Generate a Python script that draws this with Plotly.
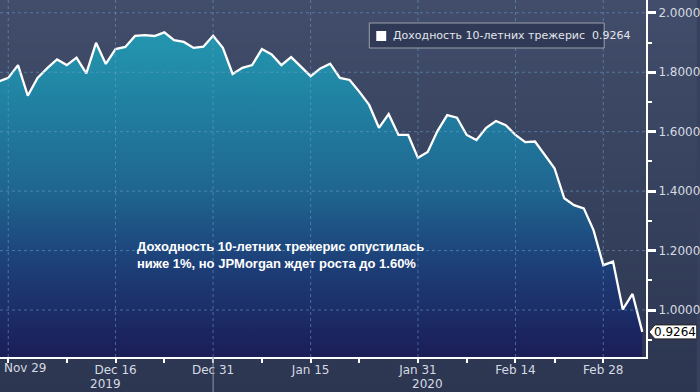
import base64
import struct
import zlib

import pandas as pd
import plotly.graph_objects as go

# ---------------- data ----------------
holidays = ["2019-11-28", "2019-12-25", "2020-01-01", "2020-01-20", "2020-02-17"]
dates = [d for d in pd.bdate_range("2019-11-27", "2020-03-05")
         if d.strftime("%Y-%m-%d") not in holidays]

yields = [1.769, 1.781, 1.824, 1.721, 1.781, 1.814, 1.843, 1.824, 1.849, 1.796,
          1.899, 1.828, 1.878, 1.885, 1.922, 1.925, 1.922, 1.934, 1.908, 1.902,
          1.882, 1.886, 1.923, 1.882, 1.794, 1.815, 1.824, 1.878, 1.860, 1.824,
          1.851, 1.818, 1.787, 1.813, 1.829, 1.781, 1.774, 1.734, 1.690, 1.613,
          1.659, 1.589, 1.589, 1.512, 1.532, 1.602, 1.656, 1.647, 1.589, 1.572,
          1.613, 1.636, 1.622, 1.589, 1.565, 1.567, 1.521, 1.477, 1.376, 1.353,
          1.342, 1.269, 1.151, 1.163, 1.002, 1.054, 0.9264]

major_tick_dates = ["2019-11-29", "2019-12-16", "2019-12-31", "2020-01-15",
                    "2020-01-31", "2020-02-14", "2020-02-28"]
minor_tick_dates = ["2019-12-09", "2019-12-23", "2020-01-08", "2020-01-23",
                    "2020-02-07", "2020-02-21"]
y_major = [1.0, 1.2, 1.4, 1.6, 1.8, 2.0]
y_minor = [0.9, 1.1, 1.3, 1.5, 1.7, 1.9]
year_labels = ["2019", "2020"]
series_name = "Доходность 10-летних трежерис"
headline = "Доходность 10-летних трежерис опустилась<br>ниже 1%, но JPMorgan ждет роста до 1.60%"

# ---------------- helpers ----------------
date_str = [d.strftime("%Y-%m-%d") for d in dates]
x_idx = list(range(len(yields)))
maj_idx = [date_str.index(d) for d in major_tick_dates]
min_idx = [date_str.index(d) for d in minor_tick_dates]
maj_txt = [pd.Timestamp(d).strftime("%b %d") for d in major_tick_dates]

XR = [0.153, 66.38]
YR = [0.842, 2.043]
W, H = 700, 392
ML, MR, MT, MB = 0, 51, 0, 35
PW, PH = W - ML - MR, H - MT - MB


def gradient_png(h, top, bot, w=2):
    raw = b""
    for i in range(h):
        t = i / (h - 1)
        c = bytes(round(top[k] + (bot[k] - top[k]) * t) for k in range(3))
        raw += b"\x00" + c * w

    def chunk(tag, data):
        return (struct.pack(">I", len(data)) + tag + data
                + struct.pack(">I", zlib.crc32(tag + data) & 0xFFFFFFFF))

    png = (b"\x89PNG\r\n\x1a\n"
           + chunk(b"IHDR", struct.pack(">IIBBBBB", w, h, 8, 2, 0, 0, 0))
           + chunk(b"IDAT", zlib.compress(raw))
           + chunk(b"IEND", b""))
    return "data:image/png;base64," + base64.b64encode(png).decode()


bg_src = gradient_png(H, (0x41, 0x4D, 0x6A), (0x2C, 0x36, 0x51))

fig = go.Figure()
fig.add_trace(go.Scatter(
    x=x_idx, y=yields, mode="lines",
    line=dict(color="white", width=2.3),
    fill="tozeroy",
    fillgradient=dict(
        type="vertical", start=YR[0], stop=max(yields),
        colorscale=[[0.0, "#1b1d58"], [0.27, "#1d3d76"], [0.51, "#1f6590"],
                    [0.85, "#2188a6"], [1.0, "#2496af"]]),
    hoverinfo="skip", showlegend=False,
))

shapes = []
grid_col = "rgba(110,160,205,0.55)"
for v in y_major:
    shapes.append(dict(type="line", xref="paper", yref="y", x0=0, x1=1, y0=v, y1=v,
                       line=dict(color=grid_col, width=1, dash="dot"), layer="above"))
for i in maj_idx:
    shapes.append(dict(type="line", xref="x", yref="paper", x0=i, x1=i, y0=0, y1=1,
                       line=dict(color=grid_col, width=1, dash="dot"), layer="above"))
# year separator below axis
sep = date_str.index("2019-12-31")
shapes.append(dict(type="line", xref="x", yref="paper", x0=sep, x1=sep, y0=0, y1=-MB / PH,
                   line=dict(color="#8f98aa", width=1), layer="above"))

# legend box
lx0, lx1, ly0, ly1 = 371, 607, 23, 48
shapes.append(dict(type="rect", xref="paper", yref="paper",
                   x0=lx0 / PW, x1=lx1 / PW, y0=1 - ly1 / PH, y1=1 - ly0 / PH,
                   line=dict(color="#9aa0ac", width=1), fillcolor="#303955", layer="above"))
shapes.append(dict(type="rect", xref="paper", yref="paper",
                   x0=378 / PW, x1=388 / PW, y0=1 - 41 / PH, y1=1 - 31 / PH,
                   line=dict(width=0), fillcolor="white", layer="above"))

# last value tag
last = yields[-1]
fy = (last - YR[0]) / (YR[1] - YR[0])
hh = 7 / PH
tip, b0, b1 = 652 / PW, 658 / PW, 700 / PW
shapes.append(dict(type="path", xref="paper", yref="paper",
                   path=f"M {tip} {fy} L {b0} {fy + hh} L {b1} {fy + hh} L {b1} {fy - hh} L {b0} {fy - hh} Z",
                   line=dict(color="#222", width=1), fillcolor="white", layer="above"))

annotations = []
lab_font = dict(family="DejaVu Sans", size=12, color="#d6dae2")
# first x label shifted into view
annotations.append(dict(xref="paper", yref="paper", x=3 / PW, y=-11 / PH,
                        xanchor="left", yanchor="middle", showarrow=False, borderpad=0,
                        text=maj_txt[0], font=lab_font))
# year labels
year_pos = [(0 + sep) / 2, (sep + len(yields) - 1) / 2]
for t, p in zip(year_labels, year_pos):
    annotations.append(dict(xref="paper", yref="paper",
                            x=(p - XR[0]) / (XR[1] - XR[0]), y=-MB / PH,
                            xanchor="center", yanchor="bottom", showarrow=False, borderpad=0,
                            text=t, font=lab_font))
# headline
annotations.append(dict(xref="paper", yref="paper", x=136 / PW, y=1 - 255 / PH,
                        xanchor="left", yanchor="middle", align="left", showarrow=False,
                        text=f"<b>{headline}</b>",
                        font=dict(family="Liberation Sans", size=13, color="white")))
# legend text
annotations.append(dict(xref="paper", yref="paper", x=393 / PW, y=1 - 36 / PH,
                        xanchor="left", yanchor="middle", showarrow=False,
                        text=f"{series_name}\u00a0 {last:.4f}",
                        font=dict(family="DejaVu Sans", size=11, color="#e2e5ec")))
# tag text
annotations.append(dict(xref="paper", yref="paper", x=(b0 + b1) / 2 - 1 / PW, y=fy,
                        xanchor="center", yanchor="middle", showarrow=False,
                        text=f"{last:.4f}",
                        font=dict(family="DejaVu Sans", size=12, color="black")))

fig.update_layout(
    width=W, height=H,
    margin=dict(l=ML, r=MR, t=MT, b=MB, pad=0),
    paper_bgcolor="#37415d", plot_bgcolor="rgba(0,0,0,0)",
    showlegend=False,
    images=[dict(source=bg_src, xref="paper", yref="paper", x=-ML / PW, y=1 + MT / PH,
                 sizex=W / PW, sizey=H / PH, xanchor="left", yanchor="top",
                 sizing="stretch", layer="below")],
    shapes=shapes, annotations=annotations,
    xaxis=dict(range=XR, showgrid=False, zeroline=False,
               tickmode="array", tickvals=maj_idx, ticktext=[""] + maj_txt[1:],
               ticks="outside", ticklen=4, tickwidth=1.5, tickcolor="white",
               ticklabelstandoff=-3,
               showline=True, linecolor="white", linewidth=2,
               tickfont=lab_font,
               minor=dict(tickmode="array", tickvals=min_idx, ticks="outside",
                          ticklen=4, tickwidth=1.5, tickcolor="white", showgrid=False)),
    yaxis=dict(range=YR, side="right", showgrid=False, zeroline=False,
               tickmode="array", tickvals=y_major, tickformat=".4f",
               ticks="outside", ticklen=8, tickwidth=2.5, tickcolor="white",
               showline=True, linecolor="white", linewidth=2,
               tickfont=lab_font,
               minor=dict(tickmode="array", tickvals=y_minor, ticks="outside",
                          ticklen=4, tickwidth=1.5, tickcolor="white", showgrid=False)),
)

fig.write_html("out.html")
